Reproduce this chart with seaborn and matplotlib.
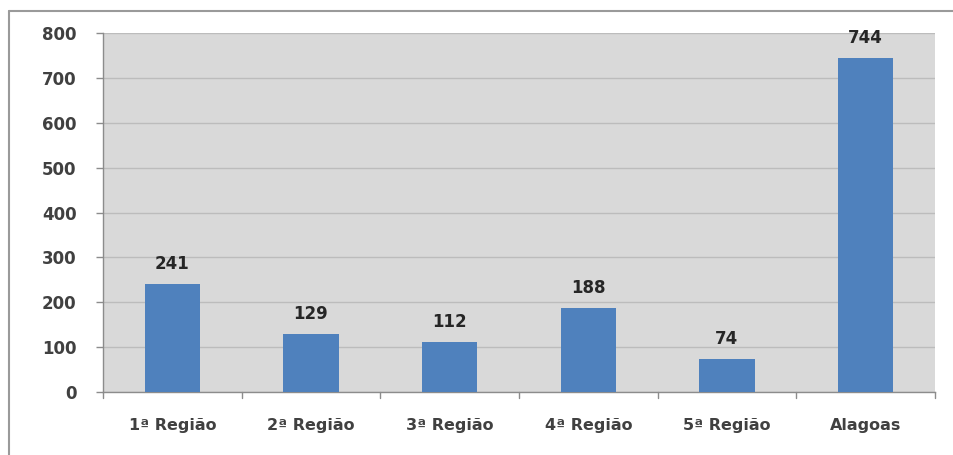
import matplotlib
matplotlib.use("Agg")
import matplotlib.pyplot as plt
import seaborn as sns
import pandas as pd
from matplotlib.lines import Line2D

categories = ["1ª Região", "2ª Região", "3ª Região", "4ª Região", "5ª Região", "Alagoas"]
values = [241, 129, 112, 188, 74, 744]
y_ticks = [0, 100, 200, 300, 400, 500, 600, 700, 800]

sns.set_theme(style="whitegrid")
plt.rcParams["font.family"] = ["DejaVu Sans"]

df = pd.DataFrame({"regiao": categories, "total": values})

fig = plt.figure(figsize=(9.54, 4.55), dpi=100, facecolor="white", edgecolor="white", linewidth=0)
ax = fig.add_axes([103 / 954, 1 - 392 / 455, (935 - 103) / 954, (392 - 33) / 455])

sns.barplot(data=df, x="regiao", y="total", color="#4f81bd", saturation=1,
            width=0.4, linewidth=0, ax=ax, zorder=3)

ax.set_facecolor("#d9d9d9")
ax.set_ylim(0, 800)
ax.set_xlim(-0.5, len(categories) - 0.5)
ax.set_yticks(y_ticks)
ax.set_yticklabels([str(t) for t in y_ticks], fontsize=12, fontweight="bold", color="#404040")
ax.set_xticklabels(categories, fontsize=11.5, fontweight="bold", color="#404040")
ax.set_xlabel("")
ax.set_ylabel("")

ax.grid(axis="y", color="#bcbcbc", linewidth=1)
ax.grid(axis="x", visible=False)
for side in ["top", "right"]:
    ax.spines[side].set_visible(False)
for side in ["left", "bottom"]:
    ax.spines[side].set_visible(True)
    ax.spines[side].set_color("#8c8c8c")
    ax.spines[side].set_linewidth(1)

# y ticks outward on the left axis
ax.tick_params(axis="y", left=True, length=5, width=1, color="#8c8c8c", pad=14)
# x ticks sit at the category boundaries
ax.tick_params(axis="x", bottom=False, length=0, pad=19)
for b in range(len(categories) + 1):
    ax.plot([b - 0.5, b - 0.5], [0, -0.017], transform=ax.get_xaxis_transform(),
            color="#8c8c8c", linewidth=1, clip_on=False)

for i, v in enumerate(values):
    ax.annotate(str(v), (i, v), xytext=(0, 8), textcoords="offset points",
                ha="center", va="bottom", fontsize=12, fontweight="bold", color="#262626")

# outer chart frame (top and left edges)
fig.add_artist(Line2D([9 / 954, 1], [1 - 11 / 455, 1 - 11 / 455], color="#9a9a9a", linewidth=1.5))
fig.add_artist(Line2D([9 / 954, 9 / 954], [0, 1 - 11 / 455], color="#9a9a9a", linewidth=1.5))

fig.savefig("out.png", dpi=100, facecolor="white")
